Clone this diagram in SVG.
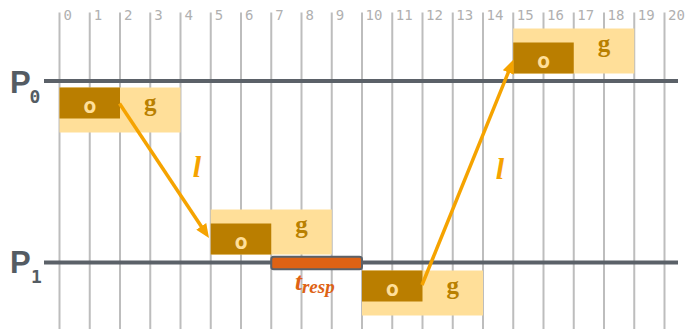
<svg xmlns="http://www.w3.org/2000/svg" width="686" height="329" viewBox="0 0 686 329">
  <style>
    .grid line { stroke: #bdbdbd; stroke-width: 2; }
    .tick { font-family: "DejaVu Sans Mono", "Liberation Mono", monospace; font-size: 14px; fill: #b0b0b0; }
    .axis { stroke: #5b6168; stroke-width: 4; }
    .plabel { font-family: "Liberation Sans", Arial, sans-serif; font-weight: bold; font-size: 31px; fill: #545c63; }
    .psub { font-family: "DejaVu Sans Mono", "Liberation Mono", monospace; font-weight: bold; font-size: 18px; fill: #545c63; }
    .light { fill: #ffdf99; }
    .dark { fill: #ba7e00; }
    .o { font-family: "DejaVu Sans Mono", "Liberation Mono", monospace; font-weight: bold; font-size: 22px; fill: #ffdf99; text-anchor: middle; }
    .g { font-family: "Liberation Serif", "Times New Roman", serif; font-weight: bold; font-size: 25px; fill: #b98000; text-anchor: middle; }
    .link { stroke: #f5a300; stroke-width: 3.5; fill: none; }
    .l { font-family: "Liberation Serif", "Times New Roman", serif; font-weight: bold; font-style: italic; font-size: 30px; fill: #f5a300; text-anchor: middle; }
    .resp { font-family: "Liberation Serif", "Times New Roman", serif; font-weight: bold; font-style: italic; fill: #de6214; }
  </style>
  <defs>
    <marker id="head" markerUnits="userSpaceOnUse" markerWidth="14" markerHeight="12" refX="2" refY="6" orient="auto">
      <path d="M0,0 L14,6 L0,12 z" fill="#f5a300"/>
    </marker>
  </defs>

  <!-- time grid, one line per unit -->
  <g id="grid" class="grid">
    <line x1="59.5" y1="12.5" x2="59.5" y2="329"/>
    <line x1="89.75" y1="12.5" x2="89.75" y2="329"/>
    <line x1="120" y1="12.5" x2="120" y2="329"/>
    <line x1="150.25" y1="12.5" x2="150.25" y2="329"/>
    <line x1="180.5" y1="12.5" x2="180.5" y2="329"/>
    <line x1="210.75" y1="12.5" x2="210.75" y2="329"/>
    <line x1="241" y1="12.5" x2="241" y2="329"/>
    <line x1="271.25" y1="12.5" x2="271.25" y2="329"/>
    <line x1="301.5" y1="12.5" x2="301.5" y2="329"/>
    <line x1="331.75" y1="12.5" x2="331.75" y2="329"/>
    <line x1="362" y1="12.5" x2="362" y2="329"/>
    <line x1="392.25" y1="12.5" x2="392.25" y2="329"/>
    <line x1="422.5" y1="12.5" x2="422.5" y2="329"/>
    <line x1="452.75" y1="12.5" x2="452.75" y2="329"/>
    <line x1="483" y1="12.5" x2="483" y2="329"/>
    <line x1="513.25" y1="12.5" x2="513.25" y2="329"/>
    <line x1="543.5" y1="12.5" x2="543.5" y2="329"/>
    <line x1="573.75" y1="12.5" x2="573.75" y2="329"/>
    <line x1="604" y1="12.5" x2="604" y2="329"/>
    <line x1="634.25" y1="12.5" x2="634.25" y2="329"/>
    <line x1="664.5" y1="12.5" x2="664.5" y2="329"/>
  </g>
  <g id="ticks" class="tick">
    <text x="63.5" y="20">0</text>
    <text x="93.75" y="20">1</text>
    <text x="124" y="20">2</text>
    <text x="154.25" y="20">3</text>
    <text x="184.5" y="20">4</text>
    <text x="214.75" y="20">5</text>
    <text x="245" y="20">6</text>
    <text x="275.25" y="20">7</text>
    <text x="305.5" y="20">8</text>
    <text x="335.75" y="20">9</text>
    <text x="365.5" y="20">10</text>
    <text x="395.75" y="20">11</text>
    <text x="426" y="20">12</text>
    <text x="456.25" y="20">13</text>
    <text x="486.5" y="20">14</text>
    <text x="516.75" y="20">15</text>
    <text x="547" y="20">16</text>
    <text x="577.25" y="20">17</text>
    <text x="607.5" y="20">18</text>
    <text x="637.75" y="20">19</text>
    <text x="668" y="20">20</text>
  </g>

  <!-- process timelines -->
  <g id="p0">
    <line class="axis" x1="44" y1="81" x2="678" y2="81"/>
    <text class="plabel" x="10" y="93">P</text>
    <text class="psub" x="29.5" y="103">0</text>
  </g>
  <g id="p1">
    <line class="axis" x1="44" y1="262.5" x2="678" y2="262.5"/>
    <text class="plabel" x="10" y="273">P</text>
    <text class="psub" x="31" y="283">1</text>
  </g>

  <!-- o/g slots -->
  <g id="slot-p0-a">
    <rect class="light" x="59.5" y="87.5" width="121" height="45"/>
    <rect class="dark" x="59.5" y="87.5" width="60.5" height="31"/>
    <text class="o" x="89.75" y="112.5">o</text>
    <text class="g" x="150.25" y="111">g</text>
  </g>
  <g id="slot-p1-a">
    <rect class="light" x="210.75" y="209.5" width="121" height="45"/>
    <rect class="dark" x="210.75" y="223.5" width="60.5" height="31"/>
    <text class="o" x="241" y="248.5">o</text>
    <text class="g" x="301.5" y="233">g</text>
  </g>
  <g id="slot-p1-b">
    <rect class="light" x="362" y="270.5" width="121" height="45"/>
    <rect class="dark" x="362" y="270.5" width="60.5" height="31"/>
    <text class="o" x="392.25" y="295.5">o</text>
    <text class="g" x="452.75" y="294">g</text>
  </g>
  <g id="slot-p0-b">
    <rect class="light" x="513.25" y="28.5" width="121" height="45"/>
    <rect class="dark" x="513.25" y="42.5" width="60.5" height="31"/>
    <text class="o" x="543.5" y="67.5">o</text>
    <text class="g" x="604" y="52">g</text>
  </g>

  <!-- response time bar -->
  <g id="t-resp">
    <rect x="271.25" y="256.75" width="90.75" height="12.5" rx="2.5" fill="#de6214" stroke="#5b6168" stroke-width="2"/>
    <text class="resp" x="295" y="290" font-size="25">t<tspan font-size="19" dy="3">resp</tspan></text>
  </g>

  <!-- latency links -->
  <g id="links">
    <line class="link" x1="119.5" y1="103.5" x2="202.35" y2="228" marker-end="url(#head)"/>
    <line class="link" x1="422" y1="285" x2="509" y2="70.6" marker-end="url(#head)"/>
    <text class="l" x="197" y="177">l</text>
    <text class="l" x="500" y="179">l</text>
  </g>
</svg>
